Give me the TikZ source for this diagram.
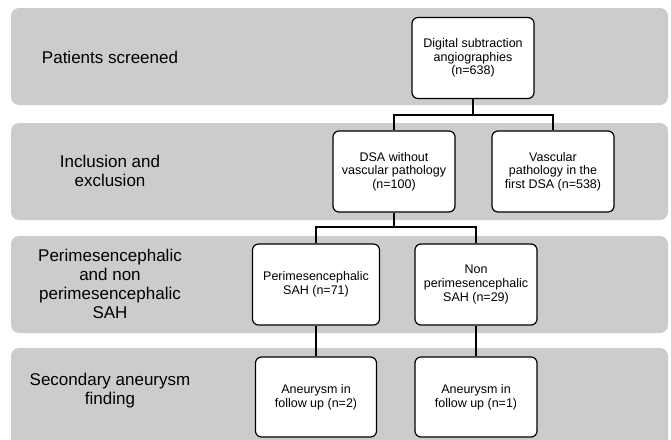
\documentclass[tikz,border=0pt]{standalone}
\usepackage{fontspec}
\setmainfont{Liberation Sans}
\definecolor{bandgray}{RGB}{204,204,204}

\begin{document}
\begin{tikzpicture}[x=1pt,y=-1pt,
  band/.style={fill=bandgray,rounded corners=8pt},
  rowlabel/.style={align=center,font=\fontsize{17}{19}\selectfont},
  stepbox/.style={draw,fill=white,rounded corners=6pt,line width=1.2pt,align=center,
    minimum width=122pt,minimum height=81pt,inner sep=2pt,font=\fontsize{12.5}{13.6}\selectfont},
  link/.style={line width=1.2pt}]
\useasboundingbox (0,0) rectangle (671,439);

% rows
\fill[band] (11,8) rectangle (668,105);
\fill[band] (11,123) rectangle (668,220);
\fill[band] (11,236) rectangle (668,333);
\fill[band] (11,348) rectangle (668,470);

\node[rowlabel] (screened) at (110,57) {Patients screened};
\node[rowlabel] (inclusion) at (110,171) {Inclusion and\\exclusion};
\node[rowlabel] (sahtype) at (110,284) {Perimesencephalic\\and non\\perimesencephalic\\SAH};
\node[rowlabel] (finding) at (110,391) {Secondary aneurysm\\finding};

\node[stepbox] (dsa) at (473,58) {Digital subtraction\\angiographies\\(n=638)};
\node[stepbox] (nopath) at (394,171.5) {DSA without\\vascular pathology\\(n=100)};
\node[stepbox] (vascpath) at (553,171.5) {Vascular\\pathology in the\\first DSA (n=538)};
\node[stepbox,minimum width=127pt] (peri) at (316,284.5) {Perimesencephalic\\SAH (n=71)};
\node[stepbox] (nonperi) at (476,284.5) {Non\\perimesencephalic\\SAH (n=29)};
\node[stepbox,minimum width=121pt,minimum height=80pt] (aneu-1) at (316,397) {Aneurysm in\\follow up (n=2)};
\node[stepbox,minimum height=80pt] (aneu-2) at (476,397) {Aneurysm in\\follow up (n=1)};

\coordinate (split-1) at (473,115);
\coordinate (split-2) at (394,227);

\draw[link] (dsa) -- (split-1) -| (nopath);
\draw[link] (split-1) -| (vascpath);
\draw[link] (nopath) -- (split-2) -| (peri);
\draw[link] (split-2) -| (nonperi);
\draw[link] (peri) -- (aneu-1);
\draw[link] (nonperi) -- (aneu-2);
\end{tikzpicture}
\end{document}
